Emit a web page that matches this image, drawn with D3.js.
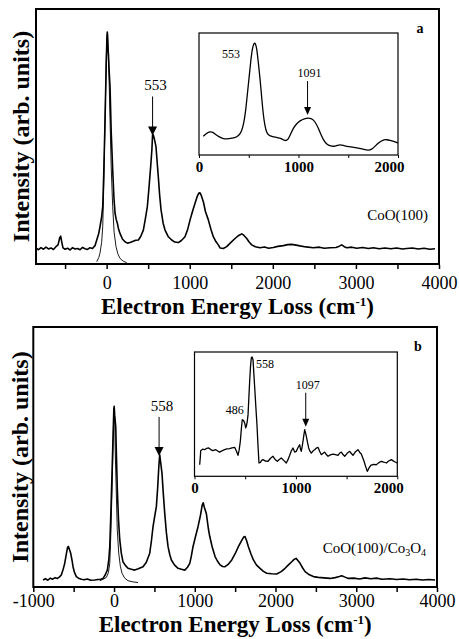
<!DOCTYPE html>
<html>
<head>
<meta charset="utf-8">
<script src="https://cdn.jsdelivr.net/npm/d3@7"></script>
<style>
  body { margin: 0; background: #fff; }
  svg text { font-family: "Liberation Serif", "Times New Roman", serif; fill: #000; }
</style>
</head>
<body>
<svg id="chart" width="459" height="639"></svg>
<script>
// ---- data: [energy loss (cm-1), intensity (arb.)] ----
var specA = [[-850,6.2],[-820,5.6],[-790,6.4],[-760,5.8],[-730,6.6],[-700,5.9],[-670,6.3],[-640,5.7],[-610,6.8],[-585,7.5],[-565,10.2],[-553,10.9],[-540,8.6],[-525,6.3],[-500,5.8],[-470,6.2],[-440,5.5],[-410,6.4],[-380,5.9],[-350,6.1],[-320,5.6],[-290,6.5],[-260,6.0],[-230,5.7],[-200,6.4],[-170,6.1],[-140,7.2],[-119,9.4],[-95,12.0],[-80,14.6],[-60,18.5],[-47,22.5],[-35,35],[-19,56.5],[-5,78],[3,88],[8,91],[14,86],[22,82],[30,76],[41,69.5],[55,52],[73,36.9],[88,26],[101,20],[115,17.5],[129,16],[145,13.5],[161,12],[190,9.8],[221,8.7],[250,8.2],[282,8.4],[320,8.9],[350,9.3],[382,9.4],[410,10.8],[442,13.3],[465,17.5],[490,22.5],[510,30],[530,38.2],[545,45],[553,50.8],[562,50.6],[575,49],[594,46],[608,40],[622,34.2],[638,27],[655,21.2],[680,16],[703,13.3],[740,10.8],[783,9.4],[820,8.6],[863,8.4],[900,9.2],[943,10.7],[975,13.5],[1004,17.3],[1035,20.8],[1064,23.8],[1090,26.5],[1110,27.8],[1124,27.9],[1140,26.8],[1164,24.4],[1190,20.5],[1224,17.3],[1255,13.6],[1284,10.7],[1315,8.8],[1344,7.5],[1365,6.3],[1404,6.1],[1445,6.8],[1490,8.3],[1545,10],[1590,11.2],[1626,11.8],[1650,11.3],[1686,10],[1715,8.6],[1746,7.5],[1790,6.8],[1846,6.4],[1900,6.7],[1950,6.2],[2006,6.5],[2060,6.9],[2126,7.2],[2180,7.6],[2227,7.7],[2280,7.4],[2327,7.1],[2400,6.7],[2487,6.4],[2560,6.6],[2620,6.2],[2688,6.4],[2760,6.5],[2800,7.0],[2829,7.5],[2860,6.8],[2889,6.4],[2950,6.6],[3010,6.2],[3080,6.5],[3150,6.1],[3210,6.4],[3280,6.0],[3350,6.3],[3420,6.0],[3490,6.3],[3560,5.9],[3611,6.1],[3680,6.3],[3750,5.9],[3820,6.2],[3890,5.8],[3952,6.0]];

var elasticA = [[-119,0.9],[-95,2.5],[-80,4.2],[-60,8.5],[-47,14.6],[-35,30],[-19,56.5],[-5,80],[5,90],[12,90.5],[22,82],[30,72],[41,56.5],[55,38],[73,22.5],[90,12.5],[113,6.8],[135,4],[161,2.2],[200,1.1],[242,0.5]];

var insetA = [[43,15.3],[75,17.8],[111,19.4],[140,18.6],[161,17.2],[200,15],[244,13.1],[300,13.3],[362,13.9],[400,16],[429,19.4],[450,26],[469,35.8],[486,50],[503,63.1],[520,77],[536,87.7],[556,92.6],[568,91],[580,87.7],[596,76],[613,63.1],[630,47],[646,33],[662,24],[680,18],[705,16],[731,15.3],[770,14.6],[814,13.9],[840,12.8],[864,11.7],[882,12],[898,13.1],[920,17],[948,22.1],[980,25.6],[1015,28.1],[1060,29.8],[1099,30.3],[1125,29.9],[1149,28.9],[1175,26],[1199,22.1],[1225,16.8],[1249,12.6],[1275,9.6],[1300,7.9],[1335,7.2],[1367,7.1],[1395,8.0],[1417,8.5],[1450,7.9],[1484,7.1],[1540,6.5],[1601,5.7],[1650,4.8],[1701,3.6],[1735,4.5],[1769,7.1],[1800,9.6],[1836,11.7],[1860,12.5],[1886,12.6],[1920,12],[1953,11.2],[2000,9.8]];

var specB = [[-879,2.7],[-850,3.2],[-820,2.6],[-790,3.4],[-760,3.0],[-730,3.6],[-700,3.3],[-675,3.9],[-653,4.6],[-630,6.8],[-611,9.1],[-590,12.8],[-575,15.3],[-565,15.6],[-550,14.2],[-537,13],[-520,10.2],[-508,7.8],[-490,5.6],[-467,4.0],[-440,3.4],[-405,3.0],[-370,2.8],[-330,3.1],[-290,2.6],[-239,2.7],[-200,2.9],[-165,3.0],[-136,3.3],[-110,4.6],[-83,6.5],[-65,10.5],[-53,15.5],[-40,28],[-25,43.7],[-12,58],[-3,68],[2,69.5],[8,66],[14,64],[21,61.7],[30,50],[41,37.3],[55,26],[71,18.1],[90,13],[111,9.7],[140,8.3],[173,7.2],[215,6.8],[256,6.5],[300,7.0],[359,7.8],[400,9.5],[442,13],[462,17.5],[483,23.2],[500,26.5],[524,30.9],[540,38],[556,47],[566,50.8],[575,48.5],[594,43.7],[610,36],[628,28.3],[648,21],[669,15.5],[690,12.5],[710,10.4],[750,8.4],[793,7.2],[835,6.8],[876,6.5],[910,7.6],[938,9.1],[958,12],[978,15.5],[1010,19.5],[1040,23.2],[1070,27.5],[1092,31.5],[1104,32.4],[1120,30.5],[1143,28.3],[1168,22.5],[1185,19.5],[1215,15.5],[1251,11.7],[1280,10],[1313,8.5],[1345,7.9],[1375,7.8],[1410,8.6],[1458,10.4],[1500,12.8],[1540,15.5],[1580,17.8],[1605,19.2],[1622,19.4],[1640,18],[1664,15.5],[1695,12.8],[1726,10.4],[1765,8.4],[1808,7.2],[1850,6.0],[1891,5.3],[1950,5.1],[2015,5.0],[2070,5.9],[2118,7.2],[2160,8.5],[2201,9.7],[2230,10.6],[2254,11.0],[2280,10.1],[2304,9.1],[2335,7.4],[2366,5.9],[2420,4.7],[2469,4.0],[2530,3.7],[2600,3.5],[2675,3.3],[2740,3.6],[2790,4.0],[2820,4.3],[2860,3.8],[2902,3.3],[2970,3.4],[3040,3.1],[3110,3.5],[3180,3.2],[3250,3.4],[3320,3.0],[3418,3.2],[3500,2.9],[3580,3.1],[3660,2.8],[3740,3.0],[3820,2.7],[3900,2.9],[3976,2.7]];

var elasticB = [[-177,2.4],[-140,2.9],[-95,3.7],[-70,5.5],[-53,9.1],[-40,20],[-25,37],[-12,55],[-3,67],[2,69],[8,65],[15,52],[25,39.9],[40,22],[58,13],[78,8],[99,5.3],[130,3.5],[173,2.4],[230,2.0],[297,1.7]];

var insetB = [[51,9.3],[58,16],[61,20.6],[80,21.8],[100,21.4],[120,22.5],[140,22.8],[160,21.5],[182,20.6],[210,21.4],[230,20.3],[248,19.5],[270,20.4],[297,21.4],[320,22.0],[347,22.2],[370,22.9],[396,23.3],[415,20],[429,16.9],[440,21],[452,28.2],[462,38],[471,45.5],[483,45],[495,42.9],[505,39],[511,40.2],[520,44],[528,49.6],[536,63],[544,76.4],[552,88],[560,95.2],[568,96],[577,93.8],[585,83],[594,71],[605,56],[616,41.5],[626,25],[636,10.7],[650,11.2],[662,12.8],[676,13.4],[700,12.2],[725,12.1],[750,14.5],[774,16.1],[795,13.6],[817,12.1],[836,13.5],[856,14.7],[880,12.8],[905,10.7],[920,13],[939,16.9],[955,20.5],[971,22.8],[988,19.5],[1004,20.1],[1020,23],[1037,25.4],[1045,22],[1053,20.1],[1062,24],[1070,28.2],[1080,34],[1087,37.5],[1095,35],[1103,32.2],[1115,27],[1126,22.8],[1140,20],[1152,18.7],[1170,20.5],[1185,21.4],[1200,22.6],[1218,23.3],[1235,20],[1251,17.4],[1268,18.6],[1284,19.5],[1300,17.5],[1317,16.1],[1340,17.2],[1366,17.9],[1390,17.5],[1415,16.9],[1430,18.5],[1448,19.5],[1465,17.5],[1481,16.1],[1505,18.5],[1531,20.1],[1545,18.5],[1563,16.9],[1585,19.5],[1612,21.4],[1630,19.2],[1645,17.9],[1660,14.8],[1672,12.1],[1688,7.8],[1704,4],[1720,6.5],[1738,8.8],[1765,9.6],[1793,9.3],[1815,10.8],[1842,12.1],[1865,11.5],[1892,10.7],[1915,12.3],[1941,13.4],[1960,12.4],[1974,11.7],[2000,10.7]];

var mainTicks = [-1000, -500, 0, 500, 1000, 1500, 2000, 2500, 3000, 3500, 4000];
var insetTicks = [0, 500, 1000, 1500, 2000];

var svg = d3.select('#chart');

// arrow pointing down onto a peak
function arrow(g, x, yTop, yTip, head) {
    g.append('line')
        .attr('x1', x).attr('x2', x)
        .attr('y1', yTop).attr('y2', yTip - head.h + 1)
        .attr('stroke', '#000').attr('stroke-width', 1);
    g.append('path')
        .attr('d', 'M' + (x - head.w / 2) + ',' + (yTip - head.h) + 'L' + (x + head.w / 2) + ',' + (yTip - head.h) + 'L' + x + ',' + yTip + 'Z')
        .attr('fill', '#000');
}

// highest reading close to a given energy
function peakAt(data, v) {
    var near = data.filter(function(d) { return Math.abs(d[0] - v) < 25; });
    return d3.max(near, function(d) { return d[1]; });
}

function drawPanel(p) {
    var g = svg.append('g');
    var x = d3.scaleLinear().domain(p.xDomain).range([p.left, p.right]);
    var y = d3.scaleLinear().domain([0, 100]).range([p.bottom, p.top]);

    g.append('rect')
        .attr('x', p.left).attr('y', p.top)
        .attr('width', p.right - p.left).attr('height', p.bottom - p.top)
        .attr('fill', 'none').attr('stroke', '#000').attr('stroke-width', 2);

    var ax = g.append('g')
        .attr('transform', 'translate(0,' + (p.bottom + 1) + ')')
        .call(d3.axisBottom(x)
            .tickValues(mainTicks.filter(function(t) { return t >= p.xDomain[0] && t <= p.xDomain[1]; }))
            .tickSize(4)
            .tickSizeOuter(0)
            .tickFormat(function(d) { return d % 1000 === 0 ? String(d) : ''; }));
    ax.select('.domain').remove();
    ax.selectAll('.tick line').attr('stroke', '#000').attr('stroke-width', 1.5);
    ax.selectAll('.tick text')
        .attr('y', p.tickLabelY - p.bottom - 1).attr('dy', 0)
        .attr('fill', '#000')
        .style('font-size', '18px')
        .style('font-family', '"Liberation Serif", serif');

    var line = d3.line()
        .x(function(d) { return x(d[0]); })
        .y(function(d) { return y(d[1]); });

    g.append('path').attr('d', line(p.elastic))
        .attr('fill', 'none').attr('stroke', '#000').attr('stroke-width', 0.9);
    g.append('path').attr('d', line(p.spec))
        .attr('fill', 'none').attr('stroke', '#000').attr('stroke-width', 1.6)
        .attr('stroke-linejoin', 'round');

    // peak arrow
    var pk = y(peakAt(p.spec, p.peak));
    arrow(g, x(p.peak), pk - 38, pk + 1, {w: 9, h: 9});
    g.append('text')
        .attr('x', x(p.peak) + 3).attr('y', pk - 44)
        .attr('text-anchor', 'middle')
        .style('font-size', '15px')
        .text(String(p.peak));

    // panel letter
    g.append('text')
        .attr('x', p.right - 19).attr('y', p.top + 24)
        .attr('text-anchor', 'middle')
        .style('font-size', '14px').style('font-weight', 'bold')
        .text(p.letter);

    // sample label
    var s = g.append('text')
        .attr('x', p.right - 11).attr('y', p.sampleY)
        .attr('text-anchor', 'end')
        .style('font-size', '15px');
    p.sample.forEach(function(part) {
        var t = s.append('tspan').text(part.t);
        if (part.sub) t.attr('dy', 3).style('font-size', '10px');
        else if (part.back) t.attr('dy', -3);
    });

    // axis titles
    var xt = g.append('text')
        .attr('x', (p.left + p.right) / 2).attr('y', p.xTitleY)
        .attr('text-anchor', 'middle')
        .style('font-size', '23px').style('font-weight', 'bold');
    xt.append('tspan').text('Electron Energy Loss (cm');
    xt.append('tspan').attr('dy', -8).style('font-size', '13px').text('-1');
    xt.append('tspan').attr('dy', 8).text(')');

    g.append('text')
        .attr('transform', 'translate(' + p.yTitleX + ',' + ((p.top + p.bottom) / 2) + ') rotate(-90)')
        .attr('text-anchor', 'middle')
        .style('font-size', '24px').style('font-weight', 'bold')
        .text('Intensity (arb. units)');

    drawInset(g, p.inset);
}

function drawInset(g, q) {
    var x = d3.scaleLinear().domain([0, 2000]).range([q.left, q.right]);
    var y = d3.scaleLinear().domain([0, 100]).range([q.bottom, q.top]);

    g.append('rect')
        .attr('x', q.left).attr('y', q.top)
        .attr('width', q.right - q.left).attr('height', q.bottom - q.top)
        .attr('fill', '#fff').attr('stroke', '#000').attr('stroke-width', 1.2);

    var ax = g.append('g')
        .attr('transform', 'translate(0,' + q.bottom + ')')
        .call(d3.axisBottom(x).tickValues(insetTicks).tickSize(3).tickSizeOuter(0)
            .tickFormat(function(d) { return d % 1000 === 0 ? String(d) : ''; }));
    ax.select('.domain').remove();
    ax.selectAll('.tick line').attr('stroke', '#000');
    ax.selectAll('.tick text')
        .attr('y', q.tickLabelY - q.bottom).attr('dy', 0)
        .attr('fill', '#000')
        .style('font-size', '15px').style('font-weight', 'bold')
        .style('font-family', '"Liberation Serif", serif');
    ax.selectAll('.tick text').filter(function(d) { return d === 2000; }).attr('dx', -9);

    var line = d3.line()
        .x(function(d) { return x(d[0]); })
        .y(function(d) { return y(d[1]); })
        .curve(q.smooth ? d3.curveBasis : d3.curveLinear);

    g.append('path').attr('d', line(q.data))
        .attr('fill', 'none').attr('stroke', '#000').attr('stroke-width', 1.3)
        .attr('stroke-linejoin', 'round');

    q.labels.forEach(function(l) {
        var py = y(peakAt(q.data, l.x));
        if (l.arrow) {
            arrow(g, x(l.x), py - 37, py - 3, {w: 7, h: 8});
            g.append('text')
                .attr('x', x(l.x) + 2).attr('y', py - 41)
                .attr('text-anchor', 'middle')
                .style('font-size', '12px')
                .text(String(l.x));
        } else {
            g.append('text')
                .attr('x', x(l.x) + l.dx).attr('y', py + l.dy)
                .attr('text-anchor', l.anchor)
                .style('font-size', '12px')
                .text(String(l.x));
        }
    });
}

drawPanel({
    left: 36, right: 439, top: 9, bottom: 264,
    xDomain: [-850, 4000],
    spec: specA, elastic: elasticA, peak: 553,
    tickLabelY: 289, xTitleY: 314, yTitleX: 29,
    letter: 'a', sampleY: 220,
    sample: [{t: 'CoO(100)'}],
    inset: {left: 199, right: 398, top: 33, bottom: 155, tickLabelY: 171.5,
            data: insetA, smooth: true,
            labels: [{x: 553, dx: -23, dy: 16, anchor: 'middle'}, {x: 1091, arrow: true}]}
});

drawPanel({
    left: 33.3, right: 437, top: 327, bottom: 587,
    xDomain: [-1000, 4000],
    spec: specB, elastic: elasticB, peak: 558,
    tickLabelY: 607, xTitleY: 632, yTitleX: 28,
    letter: 'b', sampleY: 553,
    sample: [{t: 'CoO(100)/Co'}, {t: '3', sub: true}, {t: 'O', back: true}, {t: '4', sub: true}],
    inset: {left: 194.5, right: 397.3, top: 352, bottom: 476.3, tickLabelY: 493,
            data: insetB, smooth: false,
            labels: [{x: 558, dx: 5, dy: 11, anchor: 'start'}, {x: 486, dx: 0, dy: -6, anchor: 'end'}, {x: 1097, arrow: true}]}
});
</script>
</body>
</html>
